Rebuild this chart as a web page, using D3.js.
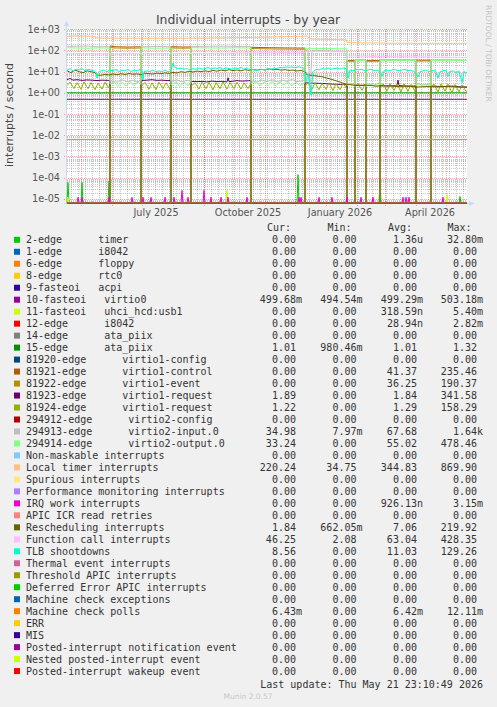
<!DOCTYPE html>
<html><head><meta charset="utf-8">
<script src="https://cdn.jsdelivr.net/npm/d3@7"></script>
<style>
html,body{margin:0;padding:0;background:#F0F0F0;}
svg{display:block;}
text{white-space:pre;}
</style></head><body>
<svg id="c" width="497" height="707"></svg>
<script>
// ---------- time range ----------
const START = Date.UTC(2025,3,16,23,10,49);
const END   = Date.UTC(2026,4,21,23,10,49);

// ---------- axis ticks ----------
const yTickValues = [1e3,1e2,1e1,1,1e-1,1e-2,1e-3,1e-4,1e-5];
const yTickLabels = ["1e+03","1e+02","1e+01","1e+00","1e-01","1e-02","1e-03","1e-04","1e-05"];
const xTickDates  = ["2025-07-15","2025-10-15","2026-01-15","2026-04-15"];
const xTickLabels = ["July 2025","October 2025","January 2026","April 2026"];

// ---------- legend ----------
const names = ["2-edge      timer","1-edge      i8042","6-edge      floppy","8-edge      rtc0","9-fasteoi   acpi",
 "10-fasteoi   virtio0","11-fasteoi   uhci_hcd:usb1","12-edge      i8042","14-edge      ata_piix","15-edge      ata_piix",
 "81920-edge      virtio1-config","81921-edge      virtio1-control","81922-edge      virtio1-event","81923-edge      virtio1-request","81924-edge      virtio1-request",
 "294912-edge      virtio2-config","294913-edge      virtio2-input.0","294914-edge      virtio2-output.0",
 "Non-maskable interrupts","Local timer interrupts","Spurious interrupts","Performance monitoring interrupts","IRQ work interrupts",
 "APIC ICR read retries","Rescheduling interrupts","Function call interrupts","TLB shootdowns","Thermal event interrupts",
 "Threshold APIC interrupts","Deferred Error APIC interrupts","Machine check exceptions","Machine check polls","ERR","MIS",
 "Posted-interrupt notification event","Nested posted-interrupt event","Posted-interrupt wakeup event"];
const colors = ["#00CC00","#0066B3","#FF8000","#FFCC00","#330099","#990099","#CCFF00","#FF0000","#808080","#008F00",
 "#00487D","#B35A00","#B38F00","#6B006B","#8FB300","#B30000","#BEBEBE","#80FF80","#80C9FF","#FFC080","#FFE680","#AA80FF",
 "#EE00CC","#FF8080","#666600","#FFBFFF","#00FFCC","#CC6699","#999900","#00CC00","#0066B3","#FF8000","#FFCC00","#330099",
 "#990099","#CCFF00","#FF0000"];
const Z = "0.00";
const curV = [Z,Z,Z,Z,Z,"499.68m",Z,Z,Z,"1.01",Z,Z,Z,"1.89","1.22",Z,"34.98","33.24",Z,"220.24",Z,Z,Z,Z,"1.84","46.25","8.56",Z,Z,Z,Z,"6.43m",Z,Z,Z,Z,Z];
const minV = [Z,Z,Z,Z,Z,"494.54m",Z,Z,Z,"980.46m",Z,Z,Z,Z,Z,Z,"7.97m",Z,Z,"34.75",Z,Z,Z,Z,"662.05m","2.08",Z,Z,Z,Z,Z,Z,Z,Z,Z,Z,Z];
const avgV = ["1.36u",Z,Z,Z,Z,"499.29m","318.59n","28.94n",Z,"1.01",Z,"41.37","36.25","1.84","1.29",Z,"67.68","55.02",Z,"344.83",Z,Z,"926.13n",Z,"7.06","63.04","11.03",Z,Z,Z,Z,"6.42m",Z,Z,Z,Z,Z];
const maxV = ["32.80m",Z,Z,Z,Z,"503.18m","5.40m","2.82m",Z,"1.32",Z,"235.46","190.37","341.58","158.29",Z,"1.64k","478.46",Z,"869.90",Z,Z,"3.15m",Z,"219.92","428.35","129.26",Z,Z,Z,Z,"12.11m",Z,Z,Z,Z,Z];

// ---------- series data: [day offset from START, value/s] ----------
const zeroLine = [[0,0],[400,0]];
const timerSpikes   = [[1,6e-5],[15,6e-5],[42,7e-5],[231,1.4e-4],[313,9e-5],[393,1.3e-5]];
const usbSpikes     = [[1,1.2e-5],[160,2.6e-5],[380,1.6e-5]];
const irqWorkSpikes = [[11,1.2e-5],[15,1.2e-5],[42,1.2e-5],[65,1.2e-5],[76,1.2e-5],[84,1.2e-5],[98,1.2e-5],[107,1.2e-5],
 [115,2.5e-5],[121,1.2e-5],[137,2.5e-5],[144,1.2e-5],[154,1.2e-5],[161,1.2e-5],[180,1.2e-5],[232,1.2e-5],[234,1.2e-5],
 [252,1.2e-5],[265,1.2e-5],[280,1.2e-5],[294,1.2e-5],[306,1.2e-5],[336,1.2e-5],[339,1.2e-5],[342,1.2e-5],[376,1.2e-5]];
const virtio0 = [[0,0.499],[400,0.499]];
const ataPiix15 = [[0,1.01],[400,1.01]];
const virtio1Control = [[0,0],[43,0],[43,165],[46,152],[60,146],[74,150],[74,0],[104,0],[104,152],[115,146],[124,148],[124,0],
 [184,0],[184,142],[200,136],[220,132],[238,130],[238,0],[280,0],[280,34],[288,34],[288,0],[299,0],[299,34],[313,34],[313,0],
 [349,0],[349,35],[364,35],[364,0],[400,0]];
const virtio1Event = [[0,0],[43,0],[43,140],[46,132],[60,128],[74,130],[74,0],[104,0],[104,132],[115,128],[124,130],[124,0],
 [184,0],[184,124],[200,120],[220,116],[238,114],[238,0],[280,0],[280,31],[288,31],[288,0],[299,0],[299,31],[313,31],[313,0],
 [349,0],[349,32],[364,32],[364,0],[400,0]];
const virtio1Req1 = [[0,4.2],[3,4.8],[6,4.0],[10,4.2],[15,3.9],[20,4.1],[25,4.0],[30,3.8],[35,4.0],[40,3.9],[43,3.9],[43,0],
 [74,0],[74,3.8],[80,4.0],[85,4.2],[90,3.9],[95,4.0],[100,3.8],[104,3.9],[104,0],[124,0],[124,3.5],[130,3.4],[135,3.5],
 [140,3.3],[145,3.6],[150,3.4],[155,3.5],[160,3.3],[161,5.2],[162,3.4],[165,3.5],[170,3.8],[175,3.6],[180,3.7],[184,3.8],
 [184,0],[238,0],[238,3.0],[245,2.9],[255,2.8],[265,2.6],[275,2.5],[280,2.4],[280,0],[288,0],[288,2.3],[299,2.3],[299,0],
 [313,0],[313,2.2],[320,2.1],[330,2.2],[331,4.0],[332,2.2],[340,2.1],[349,2.1],[349,0],[364,0],[364,2.1],[375,2.0],
 [385,2.1],[395,1.9],[400,1.9]];
const virtio1Req2 = [[0,2.2],[3,3.2],[7,1.6],[10,3.0],[14,1.5],[17,3.3],[21,1.6],[24,3.1],[28,1.4],[31,2.9],[35,1.5],[38,3.2],
 [42,1.7],[43,2.0],[43,0],[74,0],[74,2.0],[78,3.1],[82,1.5],[85,3.0],[89,1.4],[92,3.2],[96,1.6],[99,3.0],[103,1.5],[104,2.2],
 [104,0],[124,0],[124,2.1],[128,3.0],[132,1.5],[135,3.2],[139,1.6],[142,3.1],[146,1.4],[149,3.0],[153,1.6],[156,3.3],
 [160,1.5],[163,3.1],[167,1.6],[170,3.2],[174,1.5],[177,3.0],[181,1.6],[184,2.8],[184,0],[238,0],[238,2.2],[241,2.9],
 [245,1.5],[248,3.0],[252,1.4],[255,2.8],[259,1.5],[262,3.0],[266,1.3],[269,2.7],[273,1.4],[276,2.8],[280,1.5],[280,0],
 [288,0],[288,2.0],[291,2.8],[295,1.3],[298,2.6],[299,1.6],[299,0],[313,0],[313,2.0],[316,2.7],[320,1.2],[323,2.8],
 [327,1.3],[330,2.6],[334,1.1],[337,2.7],[341,1.2],[344,2.5],[348,1.2],[349,1.6],[349,0],[364,0],[364,2.0],[367,2.6],
 [371,1.1],[374,2.7],[378,1.2],[381,2.6],[385,1.0],[388,2.5],[392,1.1],[395,2.4],[399,1.2],[400,1.22]];
const virtio2Input = [[0,160],[10,158],[20,162],[30,150],[43,152],[43,3.8],[50,3.2],[55,4.2],[60,3.3],[65,4.0],[70,3.4],
 [74,3.8],[74,150],[90,155],[104,150],[104,3.6],[110,4.1],[115,3.3],[120,3.9],[124,3.5],[124,152],[140,158],[155,160],
 [170,156],[184,155],[184,3.8],[190,3.2],[195,4.1],[200,3.4],[205,4.2],[210,3.3],[215,4.0],[220,3.5],[225,4.3],[230,3.4],
 [238,3.8],[238,110],[241,105],[243,0.8],[245,100],[255,98],[265,95],[275,92],[280,90],[280,3.0],[284,2.5],[288,3.0],
 [288,38],[299,37],[299,2.8],[306,2.3],[313,2.9],[313,37],[330,38],[349,37],[349,2.8],[356,2.4],[364,2.7],[364,36],
 [380,37],[400,35]];
const virtio2Output = [[0,135],[10,130],[20,128],[30,132],[43,130],[43,2.6],[47,3.4],[51,2.0],[55,3.2],[59,2.1],[63,3.5],
 [67,2.2],[71,3.3],[74,2.5],[74,132],[90,128],[104,130],[104,2.4],[109,3.3],[113,2.0],[117,3.2],[121,2.2],[124,2.8],
 [124,135],[140,132],[155,130],[170,133],[184,130],[184,2.8],[189,3.5],[193,2.1],[197,3.4],[201,2.2],[205,3.6],[209,2.0],
 [213,3.3],[217,2.3],[221,3.5],[225,2.1],[229,3.2],[233,2.2],[238,3.0],[238,128],[250,125],[265,122],[280,120],[280,2.2],
 [284,2.8],[288,2.0],[288,33],[299,34],[299,2.0],[304,2.7],[308,1.9],[313,2.5],[313,33],[330,34],[349,33],[349,2.1],
 [353,2.8],[357,1.8],[361,2.6],[364,2.0],[364,34],[380,33],[400,33.2]];
const localTimer = [[0,470],[8,490],[16,480],[24,470],[28,430],[30,385],[60,380],[90,375],[120,380],[150,390],[180,410],
 [210,440],[235,470],[240,480],[242,400],[244,345],[260,335],[279,320],[280,240],[300,228],[330,222],[360,218],[400,220]];
const rescheduling = [[0,11],[4,9],[8,12],[12,10],[16,9],[20,11],[24,10],[28,9],[30,7],[34,6.8],[38,7.5],[42,7.0],[46,7.8],
 [50,7.2],[54,8.0],[58,7.4],[62,8.2],[66,7.6],[70,7.9],[74,7.2],[78,8.5],[82,8.0],[86,7.8],[90,8.6],[94,8.1],[98,8.8],
 [102,8.3],[106,9.2],[110,8.8],[114,10],[118,9.3],[122,10.5],[126,9.6],[130,10.8],[134,10],[138,11],[142,10.2],[146,11.5],
 [150,10.6],[154,12],[158,11],[162,12.5],[166,11.3],[170,12],[174,11],[178,12.4],[182,11.5],[186,12.8],[190,11.8],[194,13],
 [198,12],[202,13.5],[206,12.2],[210,13],[214,11.8],[218,12.5],[222,11.5],[226,12],[230,10.8],[234,11.5],[238,10],[240,7],
 [245,6.8],[250,6.2],[255,5.8],[260,5.0],[265,4.3],[270,3.6],[275,3.0],[280,2.5],[285,2.4],[290,2.2],[300,2.3],[310,2.1],
 [320,2.2],[330,2.0],[340,2.1],[350,1.9],[360,2.0],[370,1.9],[380,2.0],[390,1.9],[400,1.84]];
const functionCall = [[0,72],[20,70],[43,68],[60,72],[90,70],[120,72],[150,75],[180,78],[210,80],[238,82],[240,90],
 [260,88],[279,85],[281,55],[320,52],[360,50],[400,47]];
const tlb = [[0,12],[3,14],[6,11],[9,13],[12,12],[15,14],[18,11],[21,13],[24,12],[27,11],[29,9],[30,5],[31,9],[34,11],
 [37,12],[40,10],[43,12],[46,11],[49,13],[52,10],[55,12],[58,11],[61,13],[64,10],[67,12],[70,11],[73,13],[75,10],[76,4],
 [77,10],[80,11],[83,10],[86,12],[89,10],[92,11],[95,10],[98,12],[101,10],[104,11],[106,25],[108,16],[111,14],[114,15],
 [117,13],[120,14],[123,12],[126,14],[129,13],[132,15],[135,13],[138,14],[141,16],[144,13],[147,15],[150,14],[153,16],
 [156,13],[159,15],[162,14],[165,13],[168,15],[171,14],[174,16],[177,13],[180,15],[183,12],[186,13],[189,11],[192,12],
 [195,13],[198,12],[201,14],[204,13],[207,15],[210,14],[213,16],[216,15],[219,17],[222,16],[225,17],[228,15],[231,17],
 [234,16],[237,14],[239,3.4],[241,8],[244,0.8],[246,10],[249,13],[252,12],[255,14],[258,13],[261,15],[264,13],[267,14],
 [270,15],[273,13],[276,15],[279,14],[281,5],[283,12],[286,11],[289,13],[292,12],[295,13],[298,11],[301,12],[304,13],
 [307,11],[310,12],[313,10],[315,6],[317,11],[320,12],[323,11],[326,13],[329,12],[332,11],[335,12],[338,13],[341,11],
 [344,12],[347,10],[351,5.5],[353,10],[356,11],[359,12],[362,10],[365,11],[368,12],[371,5],[373,10],[376,11],[379,12],
 [381,6],[383,10],[386,11],[389,9],[392,11],[395,3],[397,10],[400,8.6]];
const mcPolls = [[0,0.00642],[400,0.00642]];

// ---------- build ----------
const spikes = list => { const out=[[0,0]]; list.forEach(([d,v])=>{out.push([d-1,0],[d,v],[d+1,0]);}); out.push([400,0]); return out; };
const seriesData = names.map(()=>zeroLine);
seriesData[0]=spikes(timerSpikes); seriesData[5]=virtio0; seriesData[6]=spikes(usbSpikes); seriesData[9]=ataPiix15;
seriesData[11]=virtio1Control; seriesData[12]=virtio1Event; seriesData[13]=virtio1Req1; seriesData[14]=virtio1Req2;
seriesData[16]=virtio2Input; seriesData[17]=virtio2Output; seriesData[19]=localTimer; seriesData[22]=spikes(irqWorkSpikes);
seriesData[24]=rescheduling; seriesData[25]=functionCall; seriesData[26]=tlb; seriesData[31]=mcPolls;

const svg = d3.select("#c");
const X0=67, X1=467, YT=29.3, YB=203.3;
const x = d3.scaleUtc().domain([new Date(START), new Date(END)]).range([X0,X1]);
const YMIN = 6.2e-6;
const y = d3.scaleLog().domain([YMIN,1000]).range([YB,YT]).clamp(true);
const dd = d => new Date(START + d*864e5);
const px = v => Math.round(v)+0.5;

svg.append("rect").attr("x",X0).attr("y",29).attr("width",X1-X0).attr("height",175).attr("fill","#FFFFFF");

const grid = svg.append("g").attr("fill","none").attr("stroke-dasharray","1,1").attr("shape-rendering","crispEdges");
// minor horizontal
for (let e=-6;e<=2;e++) for (let m=2;m<=9;m++){ const v=m*Math.pow(10,e); if(v>YMIN && v<1000){
  grid.append("line").attr("x1",X0).attr("x2",X1).attr("y1",px(y(v))-0.5+0.5).attr("y2",px(y(v))).attr("stroke","rgba(143,143,143,0.5)"); } }
// minor vertical weekly
d3.utcMonday.range(new Date(START), new Date(END)).forEach(t=>{
  grid.append("line").attr("x1",px(x(t))).attr("x2",px(x(t))).attr("y1",29).attr("y2",YB).attr("stroke","rgba(143,143,143,0.5)"); });
// major horizontal
yTickValues.forEach(v=>{ grid.append("line").attr("x1",64).attr("x2",X1).attr("y1",px(y(v))).attr("y2",px(y(v))).attr("stroke","rgba(233,0,0,0.35)"); });
// major vertical monthly
d3.utcMonth.range(new Date(START), new Date(END)).forEach(t=>{
  grid.append("line").attr("x1",px(x(t))).attr("x2",px(x(t))).attr("y1",29).attr("y2",206).attr("stroke","rgba(233,0,0,0.35)"); });

// axes
const AX="#CFD6F8";
svg.append("line").attr("x1",66.5).attr("x2",66.5).attr("y1",204).attr("y2",25).attr("stroke",AX);
svg.append("path").attr("d","M64,26L69,26L66.5,20.5Z").attr("fill",AX);
svg.append("line").attr("x1",64).attr("x2",470).attr("y1",203.5).attr("y2",203.5).attr("stroke",AX);
svg.append("path").attr("d","M469,201L469,206L474.5,203.5Z").attr("fill",AX);

// data
const line = d3.line().x(d=>x(dd(d[0]))).y(d=>y(Math.max(d[1],YMIN)));
const dataG = svg.append("g").attr("fill","none").attr("stroke-width",1);
seriesData.forEach((s,i)=>{ dataG.append("path").attr("d",line(s)).attr("stroke",colors[i]); });

// tick labels
const tickFont = "DejaVu Sans";
yTickValues.forEach((v,i)=>{ svg.append("text").attr("x",60).attr("y",y(v)+3.5).attr("text-anchor","end")
  .attr("font-family",tickFont).attr("font-size","9.7px").attr("fill","#555").text(yTickLabels[i]); });
xTickDates.forEach((s,i)=>{ svg.append("text").attr("x",x(new Date(s+"T00:00:00Z"))).attr("y",215.5).attr("text-anchor","middle")
  .attr("font-family",tickFont).attr("font-size","9.7px").attr("fill","#555").text(xTickLabels[i]); });

// titles
svg.append("text").attr("x",248).attr("y",24.3).attr("text-anchor","middle").attr("font-family","DejaVu Sans")
  .attr("font-size","12.4px").attr("fill","#444").text("Individual interrupts - by year");
svg.append("text").attr("transform","translate(13,115) rotate(-90)").attr("text-anchor","middle").attr("font-family","DejaVu Sans")
  .attr("font-size","11px").attr("fill","#444").text("interrupts / second");
svg.append("text").attr("transform","translate(486,5) rotate(90)").attr("text-anchor","start").attr("font-family","DejaVu Sans")
  .attr("font-size","7.5px").attr("fill","#C4C4C4").text("RRDTOOL / TOBI OETIKER");

// legend
const LF = "DejaVu Sans Mono", LS = "10px", LC = "#333";
const colRight = [302, 362.5, 423, 483];
const hdr = ["Cur:","Min:","Avg:","Max:"], hdrX=[267,327.5,388,447.5];
hdr.forEach((h,i)=>svg.append("text").attr("x",hdrX[i]).attr("y",231.3).attr("font-family",LF).attr("font-size",LS).attr("fill",LC).text(h));
const cols=[curV,minV,avgV,maxV];
names.forEach((n,i)=>{
  const by = 243.3 + i*11.98;
  svg.append("rect").attr("x",14).attr("y",by-6.5).attr("width",6).attr("height",6).attr("fill",colors[i]);
  svg.append("text").attr("x",26).attr("y",by).attr("font-family",LF).attr("font-size",LS).attr("fill",LC).text(n);
  cols.forEach((c,j)=>{ const s=c[i]; const suf=/[a-zA-Z]$/.test(s);
    svg.append("text").attr("x",colRight[j]-(suf?0:6.02)).attr("y",by).attr("text-anchor","end")
      .attr("font-family",LF).attr("font-size",LS).attr("fill",LC).text(s); });
});
svg.append("text").attr("x",483).attr("y",687.5).attr("text-anchor","end").attr("font-family",LF).attr("font-size",LS)
  .attr("fill",LC).text("Last update: Thu May 21 23:10:49 2026");
svg.append("text").attr("x",248).attr("y",699).attr("text-anchor","middle").attr("font-family","DejaVu Sans")
  .attr("font-size","7.5px").attr("fill","#C8C8C8").text("Munin 2.0.57");
</script></body></html>
